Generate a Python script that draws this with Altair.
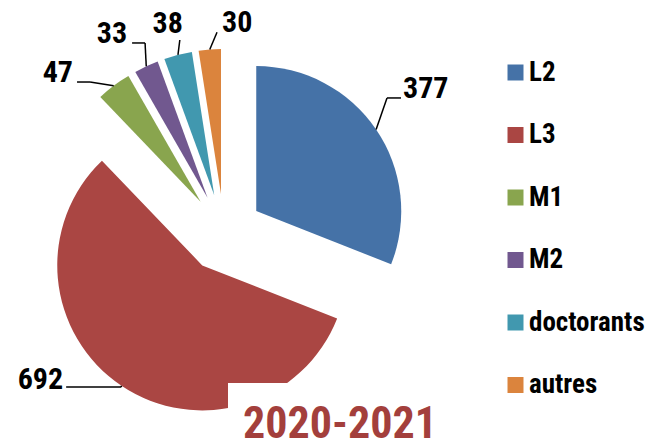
import altair as alt
import pandas as pd

# ---- data ----
categories = ["L2", "L3", "M1", "M2", "doctorants", "autres"]
values = [377, 692, 47, 33, 38, 30]
title_text = "2020-2021"

# ---- styles ----
colors = ["#4572A7", "#AA4643", "#89A54E", "#71588F", "#4198AF", "#DB843D"]
# label placement (polar from each exploded slice centre): angle (deg), radius (px)
label_angle = [52.0, 228.2, 314.1, 334.0, 347.5, 358.6]
label_radius = [183.7, 182.6, 172.1, 172.1, 159.0, 162.0]
label_tail = [-14, 55, 13, 13, 0, 0]
label_align = ["left", "right", "right", "right", "right", "left"]
label_dx = [2, -3, -4, -5, 3, 5]
label_dy = [0, 2, 0, 0, -7, 0]

W, H = 641, 430
CX, CY, R, EXPLODE = 216, 225, 145, 39
FONT = "Roboto Condensed"
TITLE_COLOR = "#A33F3C"

df = pd.DataFrame({
    "cat": categories,
    "value": values,
    "idx": list(range(len(categories))),
    "lab_ang": label_angle,
    "lab_rad": label_radius,
    "tail": label_tail,
    "align": label_align,
    "tdx": label_dx,
    "tdy": label_dy,
})

base = alt.Chart(df).transform_joinaggregate(
    total="sum(value)"
).transform_window(
    cum="sum(value)", sort=[alt.SortField("idx")], frame=[None, 0]
).transform_calculate(
    a1="2*PI*datum.cum/datum.total",
    a0="2*PI*(datum.cum-datum.value)/datum.total",
).transform_calculate(
    mid="(datum.a0+datum.a1)/2"
).transform_calculate(
    ex=f"{CX}+{EXPLODE}*sin(datum.mid)",
    ey=f"{CY}-{EXPLODE}*cos(datum.mid)",
    la="datum.lab_ang*PI/180",
).transform_calculate(
    p0x=f"datum.ex+{R}*sin(datum.mid)",
    p0y=f"datum.ey-{R}*cos(datum.mid)",
    p2x="datum.ex+datum.lab_rad*sin(datum.la)",
    p2y="datum.ey-datum.lab_rad*cos(datum.la)",
).transform_calculate(
    p1x="datum.p2x+datum.tail",
    p1y="datum.p2y",
    tx="datum.p2x+datum.tdx",
    ty="datum.p2y+datum.tdy",
)

pie = base.mark_arc(radius=R, stroke=None).encode(
    x=alt.X("ex:Q", scale=None, axis=None),
    y=alt.Y("ey:Q", scale=None, axis=None),
    theta=alt.Theta("a0:Q", scale=None),
    theta2=alt.Theta2("a1:Q"),
    color=alt.Color(
        "cat:N",
        sort=categories,
        scale=alt.Scale(domain=categories, range=colors),
        legend=alt.Legend(
            orient="none", legendX=494, legendY=51, direction="vertical",
            title=None, symbolType="square", symbolSize=256, symbolStrokeWidth=0,
            labelFont=FONT, labelFontSize=27, labelFontWeight="bold",
            labelColor="#000000", rowPadding=34.5, labelOffset=0, padding=0,
            symbolOffset=0, offset=0, labelLimit=300,
        ),
    ),
)

seg1 = base.mark_rule(color="#000000", strokeWidth=1.5).encode(
    x=alt.X("p0x:Q", scale=None, axis=None),
    y=alt.Y("p0y:Q", scale=None, axis=None),
    x2="p1x:Q", y2="p1y:Q",
)
seg2 = base.mark_rule(color="#000000", strokeWidth=1.5).encode(
    x=alt.X("p1x:Q", scale=None, axis=None),
    y=alt.Y("p1y:Q", scale=None, axis=None),
    x2="p2x:Q", y2="p2y:Q",
)

def labels(align):
    return base.transform_filter(alt.datum.align == align).mark_text(
        align=align, baseline="alphabetic", font=FONT, fontSize=30,
        fontWeight="bold", color="#000000",
    ).encode(
        x=alt.X("tx:Q", scale=None, axis=None),
        y=alt.Y("ty:Q", scale=None, axis=None),
        text="value:Q",
    )

one = alt.Data(values=[{"t": title_text}])
mask = alt.Chart(one).mark_rect(color="white").encode(
    x=alt.value(220), x2=alt.value(470), y=alt.value(375), y2=alt.value(H)
)
title = alt.Chart(one).mark_text(
    align="center", baseline="alphabetic", font=FONT, fontSize=44,
    fontWeight="bold", color=TITLE_COLOR,
).encode(x=alt.value(332), y=alt.value(H), text="t:N")

chart = alt.layer(
    pie, seg1, seg2, labels("left"), labels("right"), mask, title
).properties(
    width=W, height=H, padding=0, autosize=alt.AutoSizeParams(type="none")
).configure_view(stroke=None)

chart.save("out.html", embed_options={"renderer": "svg", "actions": False})
